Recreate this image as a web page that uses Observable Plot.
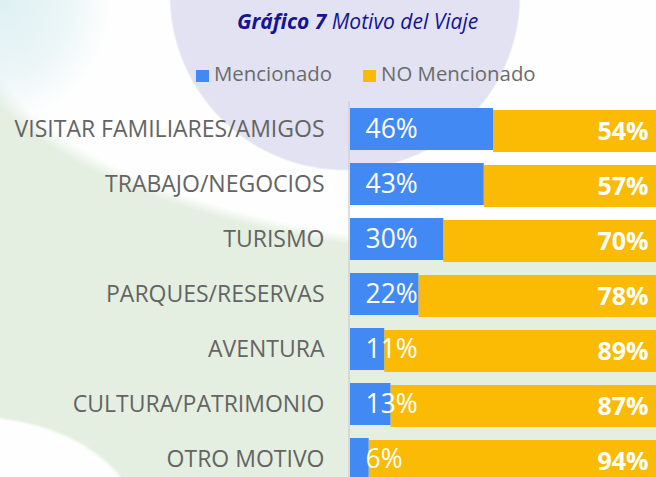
<!DOCTYPE html>
<html>
<head>
<meta charset="utf-8">
<script src="https://cdn.jsdelivr.net/npm/d3@7"></script>
<script src="https://cdn.jsdelivr.net/npm/@observablehq/plot@0.6"></script>
<style>
  html, body { margin: 0; padding: 0; width: 656px; height: 477px; overflow: hidden; background: #fff; font-family: "Open Sans", sans-serif; }
  #bg { position: absolute; left: 0; top: 0; width: 656px; height: 477px;
    background:
      radial-gradient(circle at 345px -5px, #e2e2f3 0, #e2e2f3 174px, rgba(226,226,243,0) 176px),
      radial-gradient(ellipse 110px 120px at 0px 0px, rgba(222,240,243,1) 0, rgba(222,240,243,0.6) 60%, rgba(222,240,243,0) 100%),
      radial-gradient(ellipse 170px 110px at -30px 525px, #fdfefd 0, #fdfefd 97%, rgba(253,254,253,0) 100%),
      radial-gradient(ellipse 600px 240px at 560px 20px, #fdfefd 0, #fdfefd 96%, rgba(253,254,253,0) 100%),
      #e5efe1; }
  #title { position: absolute; left: 237px; top: 7px; white-space: nowrap; font-size: 21px; font-style: italic; color: #141496; line-height: 28px; }
  #legend { position: absolute; top: 60px; left: 196px; font-size: 20.4px; color: #6b6b6b; line-height: 26px; white-space: nowrap; }
  .sw { display: inline-block; width: 13px; height: 12px; vertical-align: -1px; margin-right: 5px; }
  #chart { position: absolute; left: 0; top: 0; }
</style>
</head>
<body>
<div id="bg"></div>
<div id="title"><b>Gráfico 7</b> Motivo del Viaje</div>
<div id="legend"><span class="sw" style="background:#4289f4"></span>Mencionado<span style="display:inline-block;width:31px"></span><span class="sw" style="background:#fbbb04"></span>NO Mencionado</div>
<div id="chart"></div>
<script>
const categories = ["VISITAR FAMILIARES/AMIGOS", "TRABAJO/NEGOCIOS", "TURISMO", "PARQUES/RESERVAS", "AVENTURA", "CULTURA/PATRIMONIO", "OTRO MOTIVO"];
const mencionado = [46, 43, 30, 22, 11, 13, 6];
const noMencionado = [54, 57, 70, 78, 89, 87, 94];

const rows = categories.map((c, i) => ({cat: c, m: mencionado[i], n: noMencionado[i]}));

const chart = Plot.plot({
  width: 662,
  height: 500,
  marginLeft: 350,
  marginRight: 1,
  marginTop: 101,
  marginBottom: 12.6,
  style: {background: "transparent", fontFamily: "Open Sans", maxWidth: "none"},
  x: {domain: [0, 100], axis: null},
  y: {domain: categories, paddingInner: 0.24, paddingOuter: 0.12, axis: null},
  marks: [
    Plot.ruleX([0], {stroke: "#d2d2d2", strokeWidth: 1.5, dx: -1.5}),
    Plot.barX(rows, {x1: "m", x2: d => d.m + d.n, y: "cat", fill: "#fbbb04", dy: 2}),
    Plot.barX(rows, {x1: 0, x2: "m", y: "cat", fill: "#4289f4"}),
    Plot.text(rows, {x: 0, y: "cat", text: "cat", textAnchor: "end", dx: -26, fill: "#646464", fontSize: 23}),
    Plot.text(rows, {x: 0, y: "cat", text: d => d.m + "%", textAnchor: "start", dx: 15, fill: "#fff", fontSize: 26.5}),
    Plot.text(rows, {x: 100, y: "cat", text: d => d.n + "%", textAnchor: "end", dx: -13, dy: 2, fill: "#fff", fontSize: 25, fontWeight: "bold"})
  ]
});
document.getElementById("chart").appendChild(chart);
</script>
</body>
</html>
